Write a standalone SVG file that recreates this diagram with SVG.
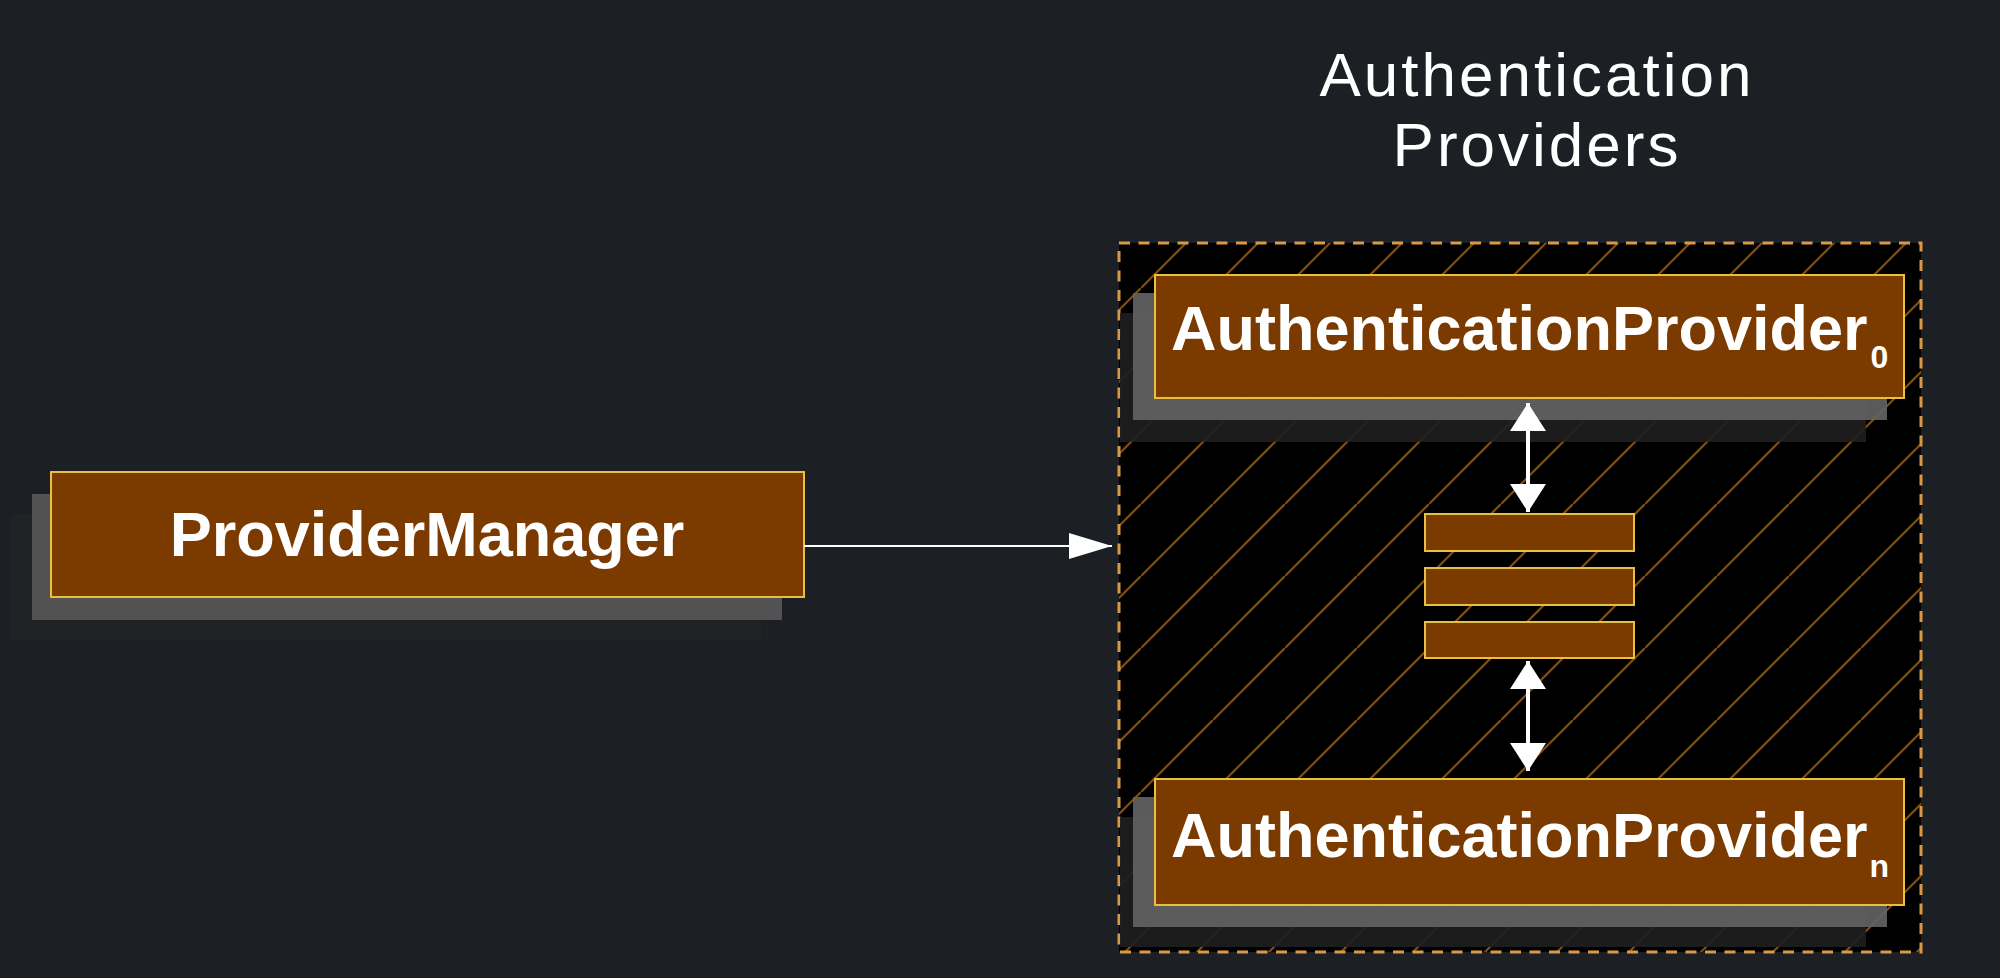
<svg xmlns="http://www.w3.org/2000/svg" width="2000" height="978" viewBox="0 0 2000 978">
<style>
.box{fill:#7b3a00;stroke:#e8c040;stroke-width:2}
.sh1{fill:#646464;fill-opacity:0.9}
.sh1pm{fill:#525252}
.sh2{fill:#1e1e1e;fill-opacity:0.92}
.sh2pm{fill:#202225}
.lbl{font-family:"Liberation Sans",Arial,sans-serif;font-weight:bold;font-size:63px;fill:#ffffff}
.sub{font-family:"Liberation Sans",Arial,sans-serif;font-weight:bold;font-size:32px;fill:#ffffff}
.title{font-family:"Liberation Sans",Arial,sans-serif;font-size:62px;fill:#ffffff;letter-spacing:3px}
.conn{stroke:#ffffff;fill:none}
</style>
<defs>
<pattern id="hatch" patternUnits="userSpaceOnUse" x="61" y="0" width="72" height="72">
<rect width="72" height="72" fill="#000000"/>
<path d="M-10,82 L82,-10" stroke="#8e4c00" stroke-width="2.2"/>
</pattern>
<marker id="ah" viewBox="0 0 43 26" refX="43" refY="13" markerWidth="43" markerHeight="26" markerUnits="userSpaceOnUse" orient="auto">
<path d="M0,0 L43,13 L0,26 Z" fill="#ffffff"/>
</marker>
<marker id="dh" viewBox="0 0 28 36" refX="28" refY="18" markerWidth="28" markerHeight="36" markerUnits="userSpaceOnUse" orient="auto-start-reverse">
<path d="M0,0 L28,18 L0,36 Z" fill="#ffffff"/>
</marker>
</defs>
<rect width="2000" height="978" fill="#1c1f23"/>

<g id="title">
<text class="title" x="1537" y="96" text-anchor="middle">Authentication</text>
<text class="title" x="1537" y="166" text-anchor="middle">Providers</text>
</g>

<g id="container">
<rect x="1119" y="243" width="802" height="709" fill="url(#hatch)"/>
<rect x="1119" y="243" width="802" height="709" fill="none" stroke="#d99a48" stroke-width="3" stroke-dasharray="11 8.5"/>
</g>

<g id="providerManager">
<rect class="sh2pm" x="11" y="514" width="750" height="126"/>
<rect class="sh1pm" x="32" y="494" width="750" height="126"/>
<rect class="box" x="51" y="472" width="753" height="125"/>
<text class="lbl" x="427" y="556" text-anchor="middle">ProviderManager</text>
</g>

<g id="provider0">
<rect class="sh2" x="1120" y="313" width="746" height="129"/>
<rect class="sh1" x="1133" y="293" width="754" height="127"/>
<rect class="box" x="1155" y="275" width="749" height="123"/>
<text class="lbl" x="1171" y="350">AuthenticationProvider<tspan class="sub" dx="3" dy="18">0</tspan></text>
</g>

<g id="providerN">
<rect class="sh2" x="1120" y="817" width="746" height="130"/>
<rect class="sh1" x="1133" y="797" width="754" height="130"/>
<rect class="box" x="1155" y="779" width="749" height="126"/>
<text class="lbl" x="1171" y="857">AuthenticationProvider<tspan class="sub" dx="2" dy="20">n</tspan></text>
</g>

<g id="bars">
<rect class="box" x="1425" y="514" width="209" height="37"/>
<rect class="box" x="1425" y="568" width="209" height="37"/>
<rect class="box" x="1425" y="622" width="209" height="36"/>
</g>

<g id="connectors">
<line class="conn" x1="804" y1="546" x2="1112" y2="546" stroke-width="2" marker-end="url(#ah)"/>
<line class="conn" x1="1528" y1="403" x2="1528" y2="512" stroke-width="4" marker-start="url(#dh)" marker-end="url(#dh)"/>
<line class="conn" x1="1528" y1="661" x2="1528" y2="771" stroke-width="4" marker-start="url(#dh)" marker-end="url(#dh)"/>
</g>
</svg>
